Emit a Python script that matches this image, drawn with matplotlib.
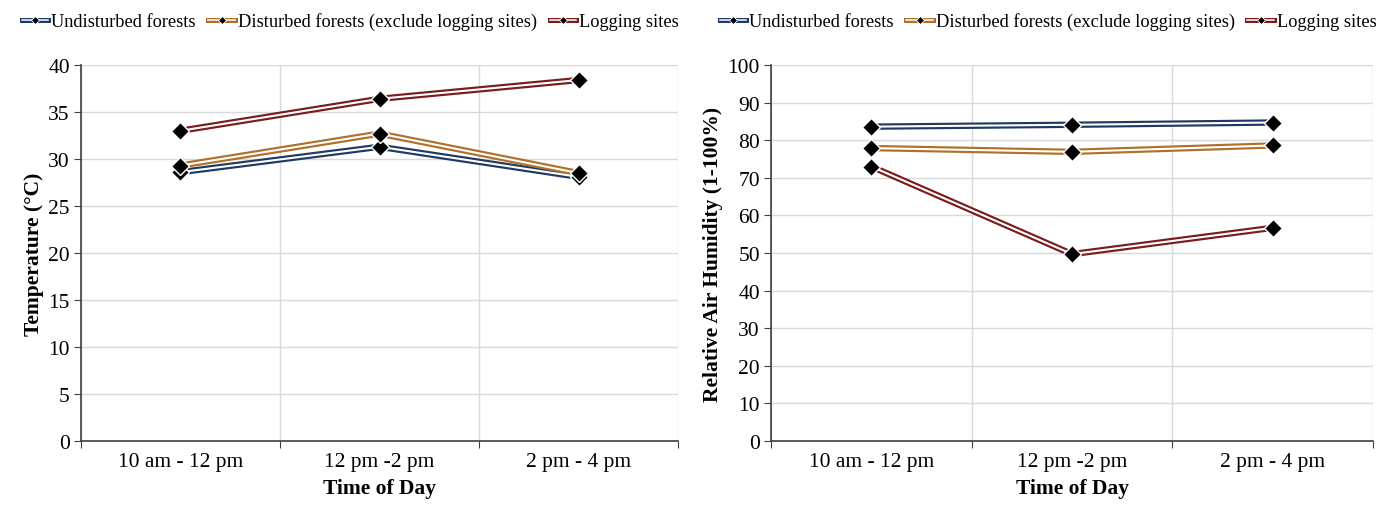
import matplotlib
matplotlib.use("Agg")
import matplotlib.pyplot as plt
from matplotlib.lines import Line2D
from matplotlib.legend_handler import HandlerTuple

plt.rcParams['font.family'] = ['Liberation Serif', 'DejaVu Serif']

periods = ["10 am - 12 pm", "12 pm -2 pm", "2 pm - 4 pm"]
series_names = ["Undisturbed forests",
                "Disturbed forests (exclude logging sites)",
                "Logging sites"]
series_colors = ["#1f3a64", "#b0702a", "#7a1c1c"]

temp_undisturbed = [28.6, 31.3, 28.1]
temp_disturbed = [29.3, 32.7, 28.5]
temp_logging = [33.0, 36.4, 38.4]

hum_undisturbed = [83.6, 84.1, 84.7]
hum_disturbed = [77.9, 76.9, 78.6]
hum_logging = [73.0, 49.7, 56.7]

temperature = [temp_undisturbed, temp_disturbed, temp_logging]
humidity = [hum_undisturbed, hum_disturbed, hum_logging]

fig = plt.figure(figsize=(13.79, 5.06), dpi=100)
ax1 = fig.add_axes([0.0587, 0.1265, 0.4330, 0.7431])
ax2 = fig.add_axes([0.5591, 0.1265, 0.4366, 0.7431])

grid_c = "#d9d9d9"
axis_c = "#404040"


def draw_panel(ax, data, ymax, ystep, ylabel, legend_x):
    x = list(range(len(periods)))
    for vals, col in zip(data, series_colors):
        ax.plot(x, vals, color=col, lw=4.6, solid_capstyle="butt", zorder=3)
        ax.plot(x, vals, color="white", lw=1.5, solid_capstyle="butt", zorder=4)
        ax.plot(x, vals, ls="none", marker="D", ms=9.5, mfc="black",
                mec="white", mew=1.0, zorder=5)
    ax.set_xlim(-0.5, len(periods) - 0.5)
    ax.set_ylim(0, ymax)
    ax.set_yticks(range(0, ymax + 1, ystep))
    ax.set_xticks([i - 0.5 for i in range(len(periods) + 1)])
    ax.set_xticklabels([])
    ax.set_xticks(x, minor=True)
    ax.set_xticklabels(periods, minor=True, fontsize=15.5)
    ax.tick_params(axis="x", which="minor", length=0, pad=8)
    ax.tick_params(axis="x", which="major", length=5, color=axis_c)
    ax.tick_params(axis="y", length=5, color=axis_c, labelsize=15.5, pad=3)
    ax.grid(True, which="major", color=grid_c, lw=1.0, zorder=0)
    ax.set_axisbelow(True)
    for s in ("top", "right"):
        ax.spines[s].set_visible(False)
    for s in ("left", "bottom"):
        ax.spines[s].set_color(axis_c)
        ax.spines[s].set_linewidth(1.2)
    ax.set_xlabel("Time of Day", fontsize=15.5, fontweight="bold", labelpad=5)
    ax.set_ylabel(ylabel, fontsize=15.5, fontweight="bold", labelpad=3)

    handles = []
    for col in series_colors:
        h = (Line2D([], [], color=col, lw=3.6),
             Line2D([], [], color="white", lw=1.1),
             Line2D([], [], ls="none", marker="D", ms=4.5, mfc="black",
                    mec="white", mew=0.6))
        handles.append(h)
    fig.legend(handles, series_names, handler_map={tuple: HandlerTuple(ndivide=1)},
               loc="center", bbox_to_anchor=(legend_x, 0.956), ncol=3,
               frameon=False, fontsize=13.2, handlelength=1.45,
               handletextpad=0.15, columnspacing=0.7, borderaxespad=0)


draw_panel(ax1, temperature, 40, 5, "Temperature (°C)", 0.254)
draw_panel(ax2, humidity, 100, 10, "Relative Air Humidity (1-100%)", 0.760)

fig.savefig("out.png", dpi=100)
